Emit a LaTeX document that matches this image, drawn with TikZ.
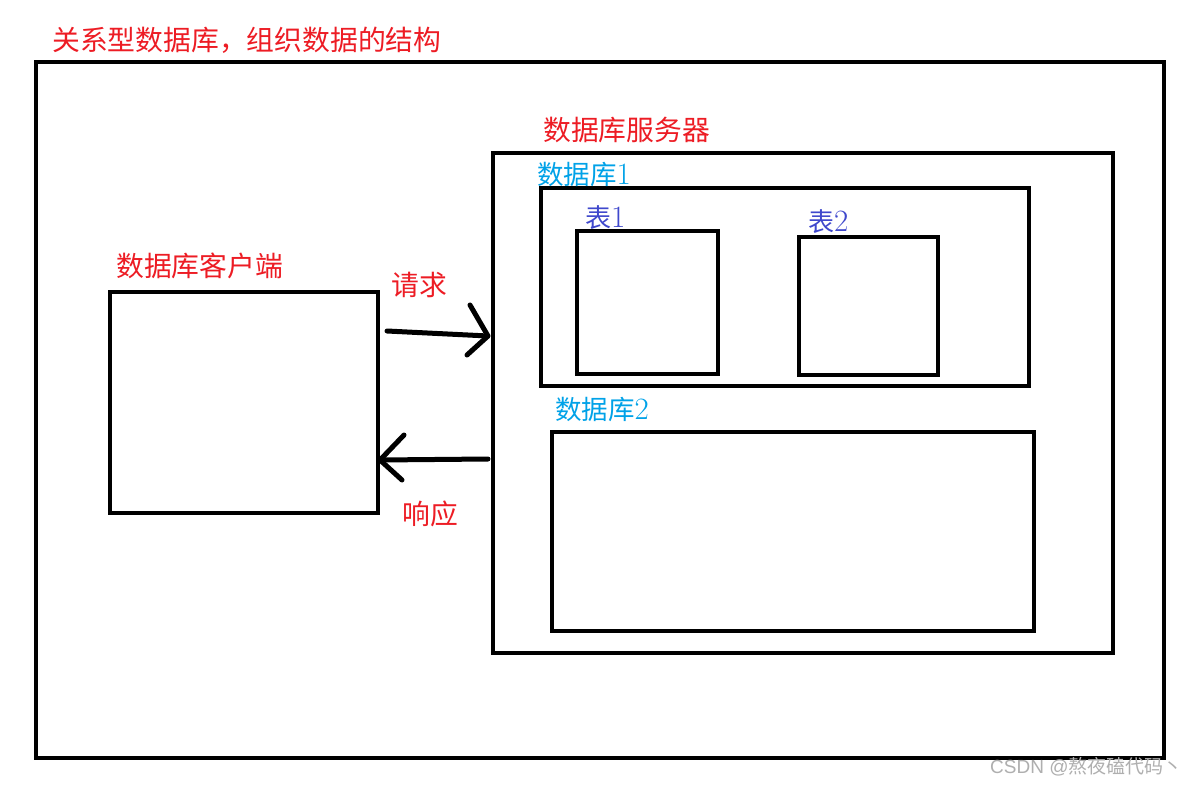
\documentclass[tikz,border=0pt]{standalone}
\usepackage{fontspec}
\newfontfamily\cjk{Noto Sans CJK SC}
\newcommand{\dg}[1]{{\normalfont\fontsize{31}{30}\selectfont #1}}
\definecolor{pred}{RGB}{237,28,36}
\definecolor{pcyan}{RGB}{0,162,232}
\definecolor{pind}{RGB}{63,72,204}
\definecolor{wm}{RGB}{175,175,175}
\begin{document}
\begin{tikzpicture}[x=1pt,y=-1pt,
  box/.style={draw=black,line width=4.5pt,inner sep=0pt,outer sep=0pt},
  lbl/.style={anchor=west,inner sep=0pt,font=\fontsize{27.8}{30}\selectfont\cjk},
  dblbl/.style={anchor=west,inner sep=0pt,font=\fontsize{26.5}{30}\selectfont\cjk,text=pcyan},
  tlbl/.style={anchor=west,inner sep=0pt,font=\fontsize{26}{30}\selectfont\cjk,text=pind},
  arr/.style={line width=5pt,line cap=round,line join=round}]
\useasboundingbox[fill=white] (0,0) rectangle (1191,787);
% boxes
\node[box,minimum width=1128pt,minimum height=696pt] (outer) at (600,410) {};
\node[box,minimum width=620pt,minimum height=500pt] (server) at (803,403) {};
\node[box,minimum width=488pt,minimum height=198pt] (db1) at (785,287) {};
\node[box,minimum width=141pt,minimum height=143pt] (t1) at (647.5,302.5) {};
\node[box,minimum width=139pt,minimum height=138pt] (t2) at (868.5,306) {};
\node[box,minimum width=482pt,minimum height=199pt] (db2) at (793,531.5) {};
\node[box,minimum width=268pt,minimum height=221pt] (client) at (244,402.5) {};
% labels
\node[lbl,text=pred] (title) at (52,40) {关系型数据库，组织数据的结构};
\node[lbl,text=pred] (serverl) at (543,130) {数据库服务器};
\node[lbl,text=pred] (clientl) at (116,266) {数据库客户端};
\node[dblbl] (db1l) at (537,174) {数据库\dg{1}};
\node[dblbl] (db2l) at (555,409) {数据库\dg{2}};
\node[tlbl] (t1l) at (585,218) {表\dg{1}};
\node[tlbl] (t2l) at (808,222) {表\dg{2}};
\node[lbl,text=pred] (reql) at (391,285) {请求};
\node[lbl,text=pred] (respl) at (402,514) {响应};
\node[anchor=west,inner sep=0pt,text=wm,font=\fontsize{19}{22}\selectfont\cjk] (wmk) at (990,767) {{\fontspec{Liberation Sans}CSDN @}熬夜磕代码丶};
% arrows
\coordinate (reqS) at (387,331);
\coordinate (reqT) at (488,336);
\coordinate (reqA) at (470,305);
\coordinate (reqB) at (467,355);
\coordinate (respS) at (488,459);
\coordinate (respT) at (380,460);
\coordinate (respA) at (404,435);
\coordinate (respB) at (402,480);
\draw[arr] (reqS) -- (reqT);
\draw[arr] (reqA) -- (reqT) -- (reqB);
\draw[arr] (respS) -- (respT);
\draw[arr] (respA) -- (respT) -- (respB);
\end{tikzpicture}
\end{document}
